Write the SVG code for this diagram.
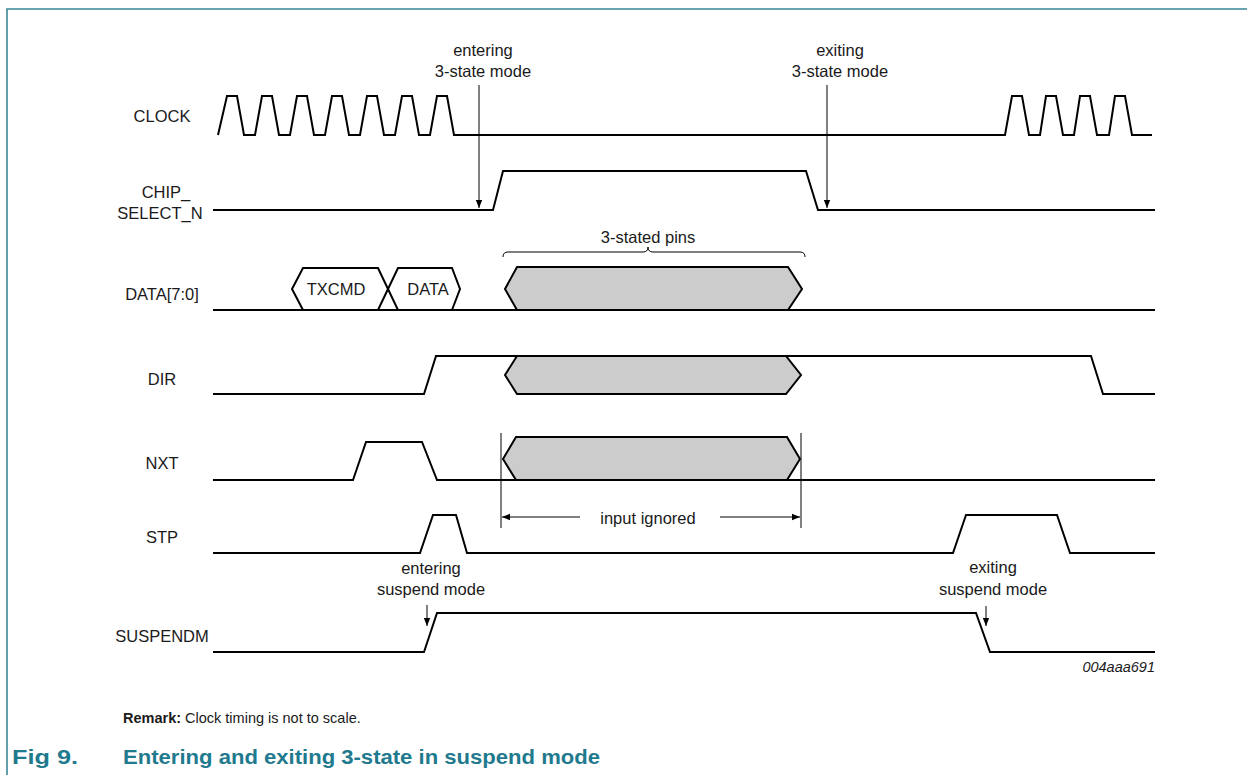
<svg xmlns="http://www.w3.org/2000/svg" width="1247" height="775" viewBox="0 0 1247 775">
<style>
.sig{fill:none;stroke:#000;stroke-width:2;stroke-linejoin:miter}
.hex{fill:#cccccc;stroke:#000;stroke-width:2}
.thin{fill:none;stroke:#000;stroke-width:1}
text{font-family:"Liberation Sans",Arial,Helvetica,sans-serif;fill:#1a1a1a}
.lbl{font-size:16.5px;text-anchor:middle}
.note{font-size:16.5px;text-anchor:middle}
.border{fill:none;stroke:#3a8798;stroke-width:1.6}
.title{font-size:21px;font-weight:bold;fill:#1f7a8e}
</style>
<defs>
<marker id="ah" viewBox="0 0 10 10" refX="10" refY="5" markerWidth="8" markerHeight="8" markerUnits="userSpaceOnUse" orient="auto">
<path d="M0,1 L10,5 L0,9 z" fill="#000"/>
</marker>
</defs>
<rect width="1247" height="775" fill="#fff"/>
<path class="border" d="M7,775 L7,9 L1247,9"/>

<g id="labels">
<text class="lbl" x="162" y="122">CLOCK</text>
<text class="lbl" x="166" y="198">CHIP_</text>
<text class="lbl" x="160" y="219">SELECT_N</text>
<text class="lbl" x="162" y="300">DATA[7:0]</text>
<text class="lbl" x="162" y="385">DIR</text>
<text class="lbl" x="162" y="469">NXT</text>
<text class="lbl" x="162" y="543">STP</text>
<text class="lbl" x="162" y="642">SUSPENDM</text>
</g>

<g id="clock">
<polyline class="sig" points="218,135 227,96 237,96 244,135 255,135 262,96 272,96 279,135 290,135 297,96 307,96 314,135 325,135 332,96 342,96 349,135 360,135 367,96 377,96 384,135 395,135 402,96 412,96 419,135 430,135 437,96 447,96 454,135 1005,135 1012,96 1022,96 1029,135 1040,135 1046,96 1056,96 1063,135 1074,135 1080,96 1090,96 1097,135 1109,135 1115,96 1125,96 1132,135 1152,135"/>
</g>

<g id="chip_select_n">
<polyline class="sig" points="213,210 493,210 503,171 806,171 818,210 1155,210"/>
</g>

<g id="data">
<line class="sig" x1="213" y1="310" x2="1155" y2="310"/>
<path class="sig" d="M303,310 L292,289 L303,268 L378,268 L398,310"/>
<path class="sig" d="M378,310 L398,268 L452,268 L460,289 L452,310"/>
<text class="lbl" x="336" y="295">TXCMD</text>
<text class="lbl" x="428" y="295">DATA</text>
<polygon class="hex" points="505,289 517,267 788,267 802,289 788,310 517,310"/>
</g>

<g id="dir">
<polyline class="sig" points="213,394 424,394 436,356 1091,356 1103,394 1155,394"/>
<polygon class="hex" points="505,375 517,356 786,356 801,375 786,394 517,394"/>
</g>

<g id="nxt">
<polyline class="sig" points="213,480 353,480 366,442 422,442 437,480 1155,480"/>
<polygon class="hex" points="503,459 516,437 787,437 800,459 787,480 516,480"/>
</g>

<g id="stp">
<polyline class="sig" points="213,553 420,553 433,515 456,515 467,553 953,553 966,515 1057,515 1070,553 1155,553"/>
</g>

<g id="suspendm">
<polyline class="sig" points="213,652 424,652 437,613 976,613 990,652 1155,652"/>
</g>

<g id="annotations">
<text class="note" x="483" y="56">entering</text>
<text class="note" x="483" y="77">3-state mode</text>
<text class="note" x="840" y="56">exiting</text>
<text class="note" x="840" y="77">3-state mode</text>
<text class="note" x="648" y="243">3-stated pins</text>
<text class="note" x="648" y="524">input ignored</text>
<text class="note" x="431" y="574">entering</text>
<text class="note" x="431" y="595">suspend mode</text>
<text class="note" x="993" y="573">exiting</text>
<text class="note" x="993" y="595">suspend mode</text>
<text x="1155" y="672" style="font-size:14.5px;font-style:italic;text-anchor:end">004aaa691</text>
</g>

<g id="connectors">
<line class="thin" x1="479" y1="85" x2="479" y2="208" marker-end="url(#ah)"/>
<line class="thin" x1="827" y1="85" x2="827" y2="208" marker-end="url(#ah)"/>
<line class="thin" x1="427" y1="605" x2="427" y2="626" marker-end="url(#ah)"/>
<line class="thin" x1="986" y1="606" x2="986" y2="626" marker-end="url(#ah)"/>
<path class="thin" d="M503,257 Q503,252 508,252 L643,252 Q648,252 648,247 Q648,252 653,252 L800,252 Q805,252 805,257"/>
<line class="thin" x1="501" y1="433" x2="501" y2="528"/>
<line class="thin" x1="801" y1="433" x2="801" y2="528"/>
<line class="thin" x1="580" y1="517" x2="502" y2="517" marker-end="url(#ah)"/>
<line class="thin" x1="720" y1="517" x2="800" y2="517" marker-end="url(#ah)"/>
</g>

<g id="caption">
<text x="123" y="723" style="font-size:14.5px"><tspan font-weight="bold">Remark:</tspan> Clock timing is not to scale.</text>
<text class="title" x="12" y="764" textLength="66" lengthAdjust="spacingAndGlyphs">Fig 9.</text>
<text class="title" x="123" y="764" textLength="477" lengthAdjust="spacingAndGlyphs">Entering and exiting 3-state in suspend mode</text>
</g>
</svg>
